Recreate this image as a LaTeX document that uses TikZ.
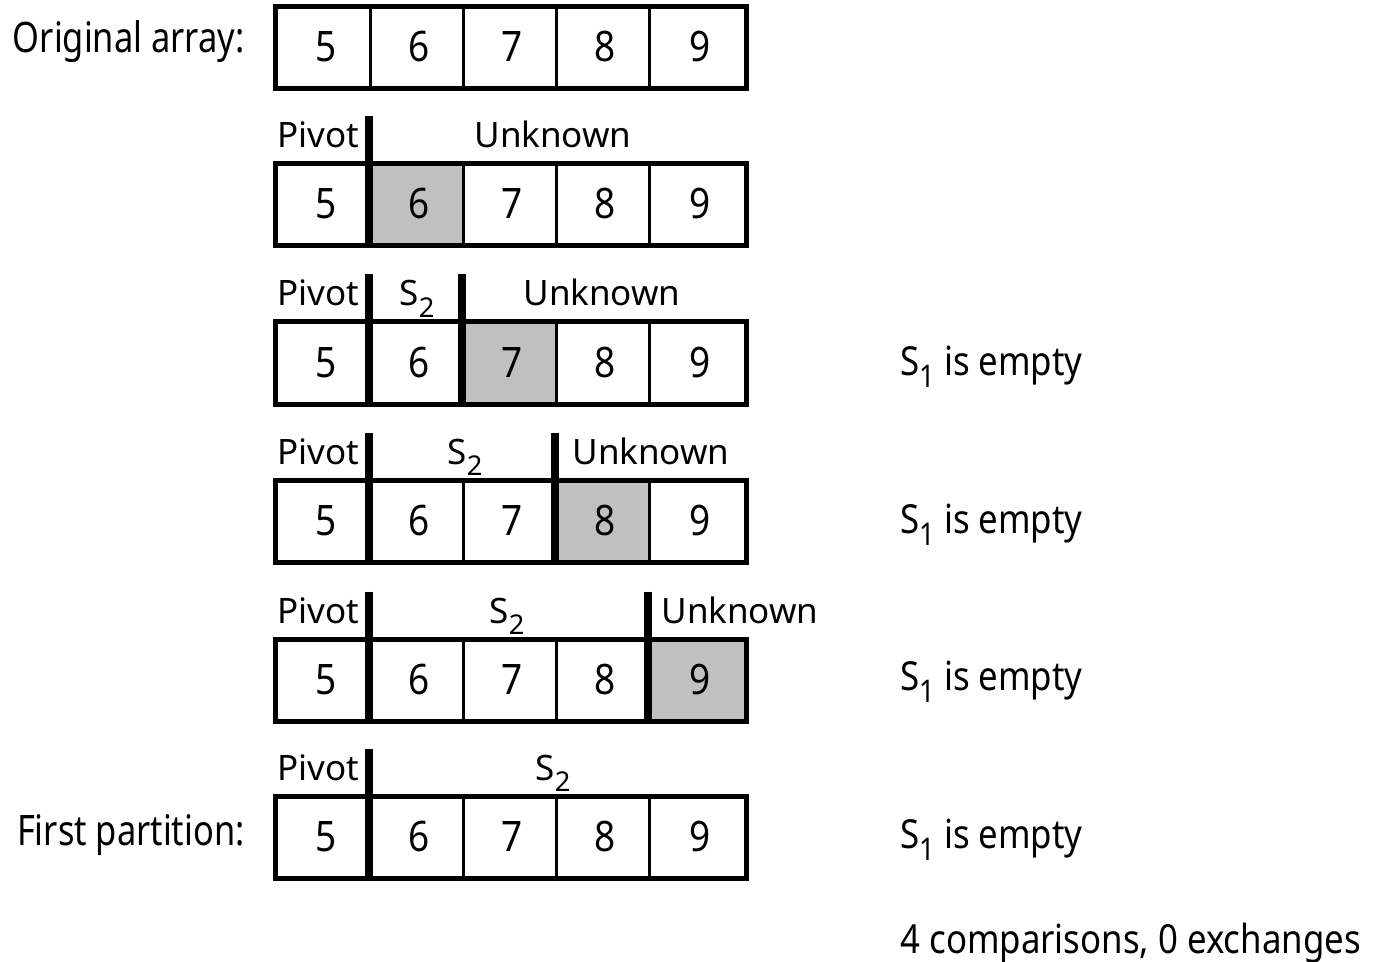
\documentclass[tikz,border=0pt]{standalone}
\usepackage{fontspec}
\setmainfont{Noto Sans}
\newfontfamily\sidefont[FakeStretch=0.87]{Noto Sans}
\newfontfamily\digitfont[FakeStretch=0.88]{Noto Sans}
\newfontfamily\leftfont[FakeStretch=0.82]{Noto Sans}
\definecolor{cellgray}{HTML}{C0C0C0}
\newcommand\mysub[1]{\raisebox{-0.32em}{\fontsize{0.78em}{1em}\selectfont #1}}
\begin{document}
\begin{tikzpicture}[x=0.5pt,y=-0.5pt,
  cellbox/.style={draw=black, line width=1.5pt, minimum width=47pt, minimum height=40pt,
    inner sep=0pt, anchor=base, text height=27pt, text depth=13pt,
    font=\digitfont\fontsize{21}{24}\selectfont},
  hl/.style={fill=cellgray},
  outerbox/.style={draw=black, line width=2pt},
  barline/.style={line width=4pt, line cap=butt},
  lbl/.style={anchor=base, inner sep=0pt, font=\fontsize{17.5}{20}\selectfont},
  side/.style={anchor=base west, inner sep=0pt, font=\sidefont\fontsize{20}{24}\selectfont},
  rowlbl/.style={anchor=base east, inner sep=0pt, font=\leftfont\fontsize{21}{24}\selectfont}]
\useasboundingbox (0,0) rectangle (1385,962);
% rows: top y, highlighted cell
\foreach \r/\T/\h in {1/8/0, 2/165/2, 3/323/3, 4/481/4, 5/640/5, 6/797/0}{
  \foreach \i/\xa/\xb/\v in {1/276/370/5, 2/370/463/6, 3/463/556/7, 4/556/649/8, 5/649/745/9}{
    \ifnum\i=\h
      \node[cellbox, hl, minimum width={(\xb-\xa)*0.5pt}] (c\r\i) at ({(\xa+\xb)/2},\T+54) {\hspace*{3pt}\v};
    \else
      \node[cellbox, minimum width={(\xb-\xa)*0.5pt}] (c\r\i) at ({(\xa+\xb)/2},\T+54) {\hspace*{3pt}\v};
    \fi
  }
  \draw[outerbox] (c\r1.north west) rectangle (c\r5.south east);
}
% thick bars
\foreach \r/\i in {2/2, 3/2, 3/3, 4/2, 4/4, 5/2, 5/5, 6/2}{
  \draw[barline] (c\r\i.north west) ++(0,-47) coordinate (b\r\i) -- (c\r\i.south west);
}
% left labels
\node[rowlbl] (orig) at (245,53) {Original array:};
\node[rowlbl] (first) at (245,845) {First partition:};
% labels above rows
\node[lbl] (p2) at (318,148) {Pivot};
\node[lbl] (u2) at (553,148) {Unknown};
\node[lbl] (p3) at (318,306) {Pivot};
\node[lbl] (s3) at (417,306) {S\mysub{2}};
\node[lbl] (u3) at (602,306) {Unknown};
\node[lbl] (p4) at (318,464) {Pivot};
\node[lbl] (s4) at (465,464) {S\mysub{2}};
\node[lbl] (u4) at (651,464) {Unknown};
\node[lbl] (p5) at (318,623) {Pivot};
\node[lbl] (s5) at (507,623) {S\mysub{2}};
\node[lbl] (u5) at (740,623) {Unknown};
\node[lbl] (p6) at (318,780) {Pivot};
\node[lbl] (s6) at (553,780) {S\mysub{2}};
% right texts
\node[side] (e3) at (900,375) {S\mysub{1} is empty};
\node[side] (e4) at (900,533) {S\mysub{1} is empty};
\node[side] (e5) at (900,690) {S\mysub{1} is empty};
\node[side] (e6) at (900,848) {S\mysub{1} is empty};
\node[side] (cmp) at (900,953) {4 comparisons, 0 exchanges};
\end{tikzpicture}
\end{document}
